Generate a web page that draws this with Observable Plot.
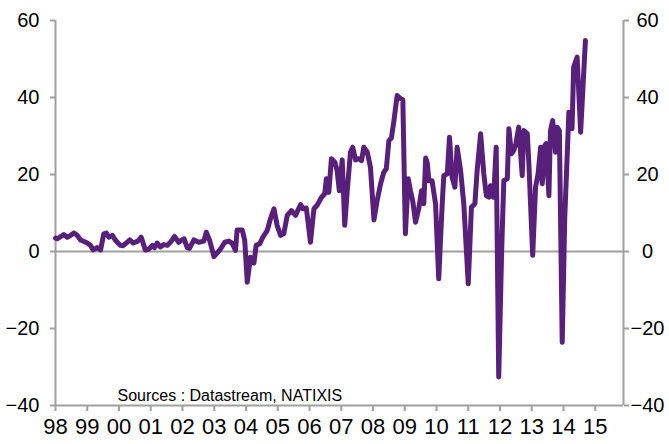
<!DOCTYPE html>
<html>
<head>
<meta charset="utf-8">
<script src="https://cdn.jsdelivr.net/npm/d3@7"></script>
<script src="https://cdn.jsdelivr.net/npm/@observablehq/plot@0.6"></script>
<style>
  html, body { margin: 0; padding: 0; background: #fff; }
  #chart svg { display: block; }
</style>
</head>
<body>
<div id="chart"></div>
<script>
// Time in decimal years
const years = [
  1998.00,1998.05,1998.15,1998.26,1998.37,1998.48,1998.58,1998.68,1998.79,1998.90,
  1999.00,1999.10,1999.19,1999.31,1999.42,1999.52,1999.60,1999.68,1999.79,1999.89,1999.97,
  2000.05,2000.12,2000.20,2000.34,2000.45,2000.59,2000.70,2000.83,2000.94,
  2001.05,2001.12,2001.20,2001.30,2001.41,2001.52,2001.62,2001.75,2001.88,2001.96,
  2002.05,2002.15,2002.22,2002.36,2002.51,2002.67,2002.75,2002.85,2002.99,
  2003.09,2003.20,2003.33,2003.46,2003.56,2003.67,2003.72,2003.88,2003.96,
  2004.04,2004.14,2004.25,2004.32,2004.43,2004.53,2004.67,2004.77,2004.88,2004.98,
  2005.09,2005.19,2005.30,2005.43,2005.56,2005.72,2005.79,2005.90,
  2006.03,2006.14,2006.24,2006.38,2006.48,2006.53,2006.61,2006.69,2006.80,2006.87,2006.94,
  2007.03,2007.11,2007.19,2007.29,2007.36,2007.45,2007.55,2007.64,2007.71,2007.82,2007.92,
  2008.03,2008.13,2008.24,2008.34,2008.42,2008.50,2008.58,2008.66,2008.76,2008.87,2008.94,
  2009.02,2009.11,2009.18,2009.25,2009.34,2009.44,2009.53,2009.60,2009.66,2009.71,2009.76,2009.86,2009.97,
  2010.07,2010.18,2010.23,2010.34,2010.41,2010.49,2010.58,2010.65,2010.76,2010.86,
  2011.00,2011.10,2011.21,2011.28,2011.39,2011.49,2011.57,2011.65,2011.70,2011.75,2011.80,2011.88,2011.96,
  2012.05,2012.12,2012.23,2012.28,2012.36,2012.43,2012.50,2012.59,2012.70,2012.75,2012.86,2012.91,
  2013.03,2013.12,2013.20,2013.28,2013.33,2013.41,2013.45,2013.54,2013.59,2013.66,2013.75,2013.80,2013.87,2013.96,
  2014.04,2014.17,2014.27,2014.32,2014.43,2014.54,2014.69
];
const values = [
  3.5,3.3,3.8,4.4,3.7,4.2,4.8,4.2,3.0,2.6,
  2.2,1.6,0.4,1.0,0.4,4.6,4.8,3.7,4.2,2.9,2.2,
  1.6,1.5,2.0,3.0,2.2,2.7,3.7,0.4,0.6,
  1.6,1.0,2.2,1.2,1.8,1.6,2.4,3.9,2.4,2.9,
  3.3,1.0,0.8,3.0,2.4,2.7,5.0,3.0,-1.3,
  -0.4,0.7,2.4,2.7,2.2,0.3,5.6,5.6,2.9,
  -8.0,-1.5,-3.0,1.6,2.0,3.7,5.5,8.5,11.1,6.8,
  4.2,4.6,9.4,10.6,9.4,12.2,11.1,11.3,
  2.4,11.1,12.0,14.1,15.0,18.9,15.4,24.1,23.2,21.0,15.8,
  23.8,6.8,15.8,25.8,27.1,23.8,24.1,23.6,27.1,25.8,21.9,
  8.2,13.2,17.6,20.6,21.5,28.8,29.5,34.0,40.5,39.7,39.4,
  4.6,18.9,15.8,13.2,7.6,11.1,15.8,12.4,24.3,23.0,18.4,18.4,12.4,
  -7.1,12.4,19.7,20.2,29.7,19.3,16.7,27.1,21.0,12.4,
  -8.4,11.5,12.4,21.0,30.6,20.2,14.5,14.1,17.1,14.5,14.1,27.1,-32.6,
  -0.6,18.4,18.9,31.9,25.4,26.2,28.0,32.3,19.7,31.4,30.6,22.8,
  -1.0,16.7,20.2,27.1,17.6,27.5,28.0,14.5,31.4,34.0,25.8,32.3,31.4,-23.6,
  8.9,36.2,31.9,47.9,50.5,31.0,54.8
];
const yearTicks = d3.range(1998, 2016);
const yTicks = [-40, -20, 0, 20, 40, 60];
const caption = "Sources : Datastream, NATIXIS";

const data = years.map((t, i) => ({t, v: values[i]}));
const xMin = 1998, xMax = 2015.89;
const gray = "#a0a0a0";

const chart = Plot.plot({
  width: 669,
  height: 444,
  marginLeft: 55,
  marginRight: 46,
  marginTop: 20,
  marginBottom: 39,
  style: {fontFamily: "'Liberation Sans', Arial, sans-serif", fontSize: "20px", color: "#000", background: "#fff"},
  x: {type: "linear", domain: [xMin, xMax]},
  y: {domain: [-40, 60]},
  marks: [
    Plot.ruleY([0], {stroke: gray, strokeWidth: 2}),
    Plot.ruleY([-40], {stroke: gray, strokeWidth: 2}),
    Plot.ruleX([xMin], {stroke: gray, strokeWidth: 2}),
    Plot.ruleX([xMax], {stroke: gray, strokeWidth: 2}),
    Plot.axisY({anchor: "left", ticks: yTicks, tickSize: 5, tickPadding: 11, stroke: gray, strokeWidth: 2, fill: "#000", fontSize: 20, label: null}),
    Plot.axisY({anchor: "right", ticks: yTicks, tickSize: 5, tickPadding: 19, textAnchor: "middle", stroke: gray, strokeWidth: 2, fill: "#000", fontSize: 20, label: null}),
    Plot.axisX({anchor: "bottom", ticks: yearTicks, tickSize: 6, tickPadding: 7, stroke: gray, strokeWidth: 2, fill: "#000", fontSize: 22,
      tickFormat: d => String(d).slice(2), label: null}),
    Plot.line(data, {x: "t", y: "v", stroke: "#58207a", strokeWidth: 5, strokeLinejoin: "round", strokeLinecap: "round"}),
    Plot.text([caption], {frameAnchor: "bottom-left", dx: 62, dy: -5, textAnchor: "start", lineAnchor: "bottom", fontSize: 16, fill: "#000"})
  ]
});
document.getElementById("chart").appendChild(chart);
</script>
</body>
</html>
